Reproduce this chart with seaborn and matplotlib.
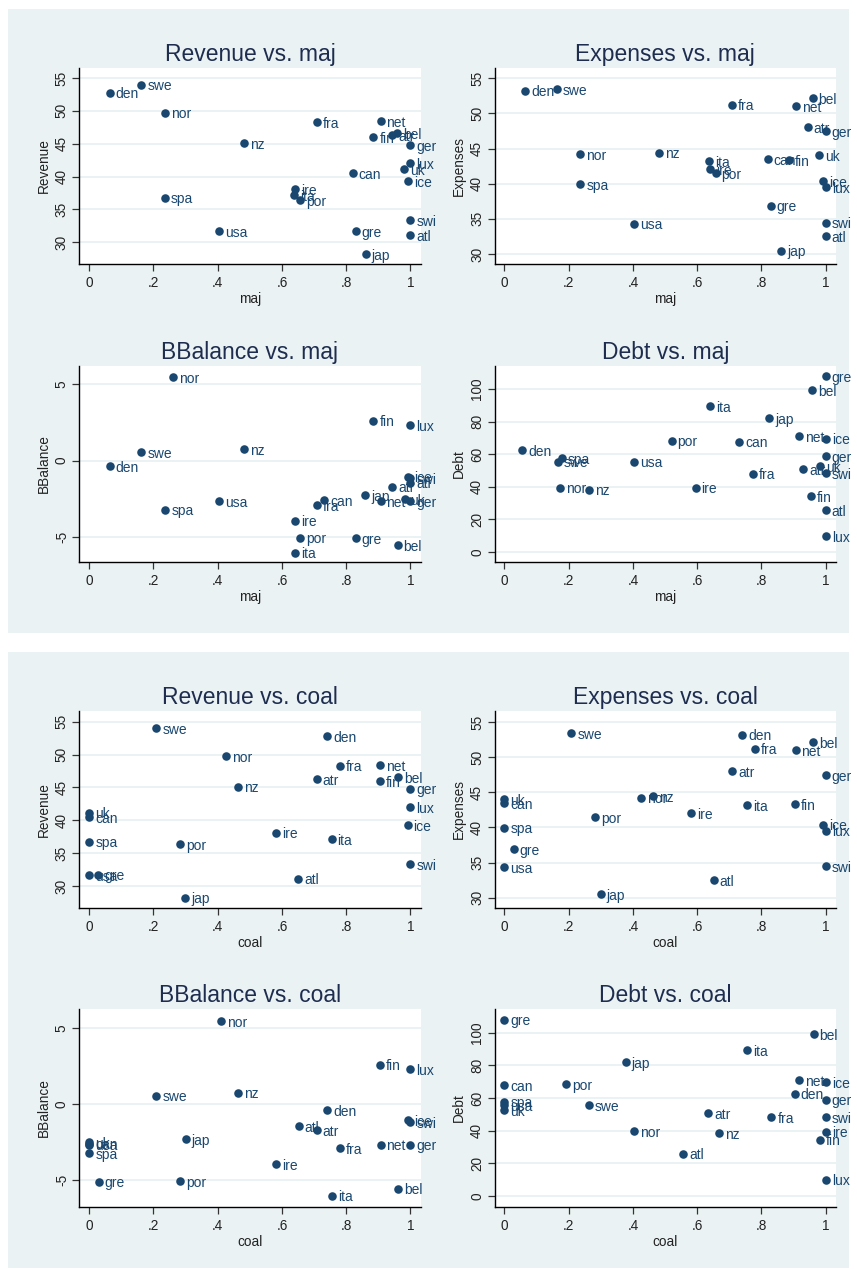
import matplotlib
matplotlib.use("Agg")
import matplotlib.pyplot as plt
from matplotlib.patches import Rectangle
import seaborn as sns
import pandas as pd

# ---- data -------------------------------------------------------------
countries = ["den", "swe", "nor", "fra", "net", "fin", "atr", "bel", "ger", "nz",
             "lux", "uk", "can", "ice", "ire", "ita", "por", "spa", "swi", "usa",
             "gre", "atl", "jap"]

revenue = [52.77, 53.99, 49.73, 48.30, 48.40, 45.97, 46.30, 46.60, 44.80, 45.13,
           42.00, 41.15, 40.50, 39.28, 38.13, 37.15, 36.39, 36.77, 33.35, 31.70,
           31.72, 31.10, 28.22]
expenses = [53.23, 53.43, 44.24, 51.25, 51.05, 43.36, 48.01, 52.20, 47.50, 44.43,
            39.55, 44.07, 43.50, 40.40, 42.06, 43.22, 41.49, 39.97, 34.46, 34.32,
            36.88, 32.54, 30.47]
bbalance = [-0.38, 0.56, 5.47, -2.90, -2.65, 2.60, -1.70, -5.55, -2.66, 0.76,
            2.30, -2.51, -2.60, -1.05, -3.93, -6.01, -5.04, -3.20, -1.17, -2.66,
            -5.08, -1.44, -2.28]
debt = [62.6, 55.45, 39.55, 48.15, 71.0, 34.45, 50.75, 99.2, 58.95, 38.3,
        9.9, 52.5, 67.75, 69.55, 39.45, 89.4, 68.35, 57.7, 48.35, 55.5,
        107.9, 25.85, 81.95]

maj = [0.064, 0.162, 0.235, 0.708, 0.907, 0.885, 0.944, 0.959, 1.0, 0.481,
       1.0, 0.980, 0.820, 0.992, 0.640, 0.638, 0.657, 0.236, 1.0, 0.404,
       0.829, 1.0, 0.861]
maj_bal = [0.064, 0.162, 0.260, 0.709, 0.907, 0.885, 0.944, 0.960, 1.0, 0.481,
           1.0, 0.982, 0.731, 0.992, 0.641, 0.640, 0.657, 0.237, 1.0, 0.404,
           0.829, 1.0, 0.860]
maj_debt = [0.056, 0.166, 0.174, 0.773, 0.916, 0.953, 0.930, 0.958, 1.0, 0.264,
            1.0, 0.982, 0.730, 1.0, 0.595, 0.639, 0.520, 0.179, 1.0, 0.404,
            1.0, 1.0, 0.825]

coal = [0.740, 0.2086, 0.4256, 0.7805, 0.906, 0.904, 0.708, 0.961, 1.0, 0.4625,
        1.0, 0.0, 0.0, 0.9913, 0.582, 0.7545, 0.283, 0.0, 1.0, 0.0,
        0.0285, 0.6515, 0.2995]
coal_bal = [0.741, 0.2086, 0.409, 0.781, 0.907, 0.905, 0.708, 0.962, 1.0, 0.463,
            1.0, 0.0, 0.0, 0.993, 0.583, 0.755, 0.284, 0.0, 1.0, 0.0,
            0.029, 0.652, 0.300]
coal_debt = [0.904, 0.2636, 0.4037, 0.831, 0.916, 0.9826, 0.634, 0.962, 1.0, 0.668,
             1.0, 0.0, 0.0, 1.0, 1.0, 0.755, 0.191, 0.0, 1.0, 0.0,
             0.0, 0.556, 0.377]

x_ticks = [0, 0.2, 0.4, 0.6, 0.8, 1.0]
x_ticklabels = ["0", ".2", ".4", ".6", ".8", "1"]
money_ticks = [30, 35, 40, 45, 50, 55]
balance_ticks = [-5, 0, 5]
debt_ticks = [0, 20, 40, 60, 80, 100]

# ---- style ------------------------------------------------------------
sns.set_theme(style="ticks")
plt.rcParams['font.family'] = ['Liberation Sans', 'DejaVu Sans']

W, H = 857, 1269
BG = "#eaf2f3"
NAVY = "#1a476f"
TITLE_C = "#1e2d4f"
INK = "#222222"

fig = plt.figure(figsize=(W / 100, H / 100), dpi=100)
fig.patch.set_facecolor("white")

for y0, y1 in [(9, 633), (652, 1268)]:
    fig.patches.append(Rectangle((8 / W, 1 - y1 / H), (849 - 8) / W, (y1 - y0) / H,
                                 transform=fig.transFigure, facecolor=BG,
                                 edgecolor="none", zorder=-5))

cols = [(79.3, 420.7), (494.5, 836.0)]
rows = [(67.7, 264.3), (365.7, 562.3), (711.0, 907.7), (1009.3, 1206.7)]


def add_ax(col, row):
    x0, x1 = cols[col]
    y0, y1 = rows[row]
    return fig.add_axes([x0 / W, 1 - y1 / H, (x1 - x0) / W, (y1 - y0) / H])


def draw(col, row, xs, ys, xname, yname, ylim, yticks):
    ax = add_ax(col, row)
    ax.set_facecolor("white")
    df = pd.DataFrame({xname: xs, yname: ys, "name": countries})
    sns.scatterplot(data=df, x=xname, y=yname, ax=ax, color=NAVY, s=38,
                    linewidth=0, zorder=3, clip_on=False)
    for xv, yv, nm in zip(df[xname], df[yname], df["name"]):
        ax.annotate(nm, (xv, yv), xytext=(4.3, -1.2), textcoords="offset points",
                    ha="left", va="center", fontsize=10, color=NAVY,
                    annotation_clip=False, zorder=4)
    ax.set_xlim(-0.031, 1.032)
    ax.set_ylim(*ylim)
    ax.set_xticks(x_ticks)
    ax.set_xticklabels(x_ticklabels)
    ax.set_yticks(yticks)
    ax.set_yticklabels([str(t) for t in yticks], rotation=90, va="center")
    ax.grid(axis="y", color=BG, lw=1.4)
    ax.grid(axis="x", visible=False)
    ax.set_axisbelow(True)
    for s in ("top", "right"):
        ax.spines[s].set_visible(False)
    for s in ("left", "bottom"):
        ax.spines[s].set_color("black")
        ax.spines[s].set_linewidth(1.0)
    ax.tick_params(axis="both", direction="out", length=5, width=0.9,
                   color="#333333", labelsize=9.8, labelcolor=INK)
    ax.tick_params(axis="x", pad=3.5)
    ax.tick_params(axis="y", pad=2.5)
    ax.set_xlabel(xname, fontsize=9.8, color=INK, labelpad=1.5)
    ax.set_ylabel(yname, fontsize=9.8, color=INK, labelpad=3)
    ax.set_title(f"{yname} vs. {xname}", fontsize=16.5, color=TITLE_C, pad=5)
    return ax


draw(0, 0, maj, revenue, "maj", "Revenue", (26.65, 56.57), money_ticks)
draw(1, 0, maj, expenses, "maj", "Expenses", (28.53, 56.51), money_ticks)
draw(0, 1, maj_bal, bbalance, "maj", "BBalance", (-6.65, 6.2), balance_ticks)
draw(1, 1, maj_debt, debt, "maj", "Debt", (-6.3, 114.3), debt_ticks)
draw(0, 2, coal, revenue, "coal", "Revenue", (26.7, 56.63), money_ticks)
draw(1, 2, coal, expenses, "coal", "Expenses", (28.57, 56.6), money_ticks)
draw(0, 3, coal_bal, bbalance, "coal", "BBalance", (-6.73, 6.23), balance_ticks)
draw(1, 3, coal_debt, debt, "coal", "Debt", (-6.55, 114.3), debt_ticks)

fig.savefig("out.png", dpi=100, facecolor="white")
